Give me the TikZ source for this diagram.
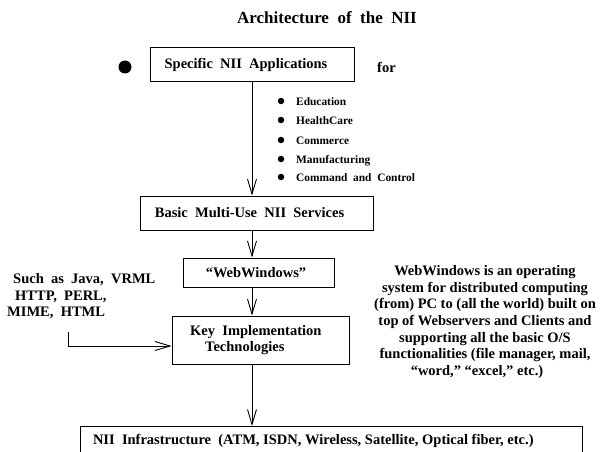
\documentclass[tikz,border=0pt]{standalone}
\usepackage{fontspec}
\setmainfont{Liberation Serif}
\usetikzlibrary{arrows.meta}
\newcommand\bxfont{\bfseries\fontsize{14.5}{17}\selectfont}
\newcommand\smfont{\bfseries\fontsize{11.4}{13}\selectfont}
\begin{document}
\begin{tikzpicture}[x=1pt,y=-1pt,
  bx/.style={draw, line width=0.9pt, inner sep=0pt, font={\bxfont\spaceskip=0.5em\relax}},
  wide/.style={inner sep=0pt, anchor=base west, font={\bxfont\spaceskip=0.5em\relax}},
  item/.style={inner sep=0pt, anchor=base west, font={\smfont\spaceskip=0.5em\relax}},
  dotb/.style={circle, fill=black, inner sep=0pt, minimum size=#1},
  arr/.style={line width=0.9pt, -{Straight Barb[length=15pt,width=9pt]}},
]
\useasboundingbox (0,0) rectangle (602,452);
\clip (0,0) rectangle (602,452);

% title
\node[inner sep=0pt, font={\bfseries\fontsize{17}{20}\selectfont\spaceskip=0.5em\relax}] (title) at (327,18) {Architecture of the NII};

% top row
\node[dotb=13pt] (bigdot) at (125,67) {};
\node[bx, minimum width=204pt, minimum height=34pt] (b1) at (252,64.5) {Specific NII Applications\hspace*{12pt}};
\node[wide] (for) at (377,73) {for};

% bullet list
\node[dotb=6.5pt] (d1) at (281,101) {};
\node[dotb=6.5pt] (d2) at (281,120) {};
\node[dotb=6.5pt] (d3) at (281,140) {};
\node[dotb=6.5pt] (d4) at (281,159) {};
\node[dotb=6.5pt] (d5) at (281,177) {};
\node[item] (i1) at (296,105) {Education};
\node[item] (i2) at (296,124) {HealthCare};
\node[item] (i3) at (296,144) {Commerce};
\node[item] (i4) at (296,163) {Manufacturing};
\node[item] (i5) at (296,181) {Command and Control};

% boxes
\node[bx, minimum width=233pt, minimum height=34pt] (b2) at (256.5,213) {Basic Multi-Use NII Services\hspace*{14pt}};
\node[bx, minimum width=151pt, minimum height=29pt] (b3) at (258.5,272.5) {``WebWindows''\hspace*{5pt}};
\node[bx, minimum width=177pt, minimum height=48pt] (b4) at (260.5,340)
  {\vbox{\baselineskip=16pt\hbox{Key Implementation\hspace*{9.4pt}}\hbox{\hspace*{15pt}Technologies}}};
\node[draw, line width=0.9pt, font=\bxfont, anchor=north, inner xsep=13pt, inner ysep=4pt, text height=14pt, text depth=30pt] (b5) at (331,426)
  {\makebox[476pt][l]{NII\ \ Infrastructure\ \ (ATM, ISDN, Wireless, Satellite, Optical fiber, etc.)}};

% left text
\node[wide] (l1) at (13,283) {Such as Java, VRML};
\node[wide] (l2) at (15,300) {HTTP, PERL,};
\node[wide] (l3) at (7,316) {MIME, HTML};

% right paragraph
\node[inner sep=0pt, align=center, font={\bfseries\fontsize{14.5}{16.7}\selectfont}] (para) at (485,322)
  {WebWindows is an operating\\
   system for distributed computing\\
   (from) PC to (all the world) built on\\
   top of Webservers and Clients and\\
   supporting all the basic O/S\\
   functionalities (file manager, mail,\\
   \hbox{``word,'' ``excel,'' etc.)\hspace*{16pt}}};

% connectors
\draw[arr] (b1.south) -- (b1.south |- b2.north);
\draw[arr] (b2.south -| b1.south) -- (b3.north -| b1.south);
\draw[arr] (b3.south -| b1.south) -- (b4.north -| b1.south);
\draw[arr] (b4.south -| b1.south) -- (b5.north -| b1.south);
\coordinate (lt) at (68,332);
\draw[arr] (lt) |- ([yshift=-6pt]b4.west);
\end{tikzpicture}
\end{document}
